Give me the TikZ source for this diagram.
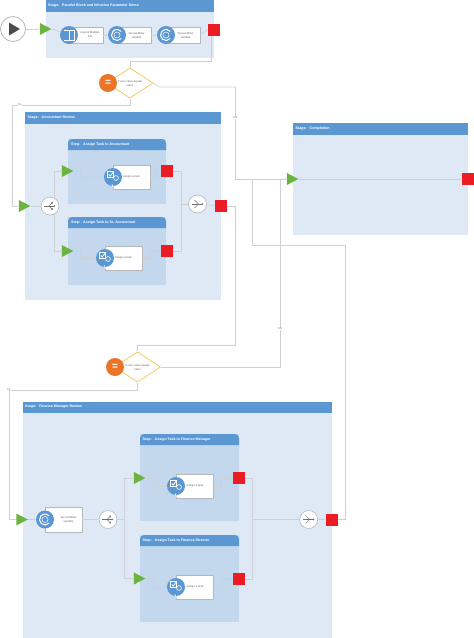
\documentclass[tikz,border=0pt]{standalone}
\usepackage{fontspec}
\setmainfont{Liberation Sans}
\usetikzlibrary{arrows.meta,shapes.geometric}
\definecolor{headblue}{HTML}{5B98D3}
\definecolor{stageblue}{HTML}{DEE9F5}
\definecolor{stepblue}{HTML}{C3D8ED}
\definecolor{flowgrey}{HTML}{CDD1D5}
\definecolor{boxgrey}{HTML}{B4B8BC}
\definecolor{endred}{HTML}{EC1C24}
\definecolor{startgreen}{HTML}{6CB33F}
\definecolor{eqorange}{HTML}{EC7427}
\definecolor{ruleyellow}{HTML}{F3C557}
\tikzset{
  stagebody/.style={fill=stageblue,inner sep=0pt},
  stepbody/.style={fill=stepblue,inner sep=0pt},
  headtext/.style={text=white,inner sep=0pt,anchor=west,font=\fontsize{3.6}{4.4}\selectfont\bfseries},
  flow/.style={draw=flowgrey,line width=0.7pt,-{Latex[length=1.6pt,width=1.6pt]}},
  greenev/.style={shape=isosceles triangle,isosceles triangle stretches,fill=startgreen,minimum width=12pt,minimum height=11.5pt,inner sep=0pt,xshift=-2pt},
  redend/.style={fill=endred,minimum size=12pt,inner sep=0pt},
  taskbox/.style={draw=boxgrey,fill=white,line width=0.6pt,minimum width=37pt,minimum height=24pt,inner sep=0pt,align=center,text=black!60,font=\fontsize{2.8}{4}\selectfont},
  taskicon/.style={circle,fill=headblue,minimum size=18pt,inner sep=0pt},
  gateway/.style={circle,draw=boxgrey,fill=white,line width=0.6pt,minimum size=18pt,inner sep=0pt},
  rulebox/.style={diamond,draw=ruleyellow,fill=white,line width=0.7pt,minimum width=46pt,minimum height=30pt,inner sep=0pt,align=center,text=black!60,font=\fontsize{2.8}{4}\selectfont},
  ruleicon/.style={circle,fill=eqorange,minimum size=18pt,inner sep=0pt,text=white,font=\fontsize{10}{10}\selectfont\bfseries},
  branchtext/.style={fill=white,inner sep=0.5pt,text=black!50,font=\fontsize{2.8}{3}\selectfont},
}
% white and grey signs inside the round nodes
\newcommand{\loopsign}[1]{
\draw[white,line width=1pt] ([shift={(40:5.5)}]#1.center) arc (40:320:5.5);
\draw[white,line width=0.5pt] (#1.center) circle (3);
}
\newcommand{\notesign}[1]{
\draw[white,line width=0.9pt] ([shift={(-5.5,-4.5)}]#1.center) -- ++(11,0) -- ++(0,10) -- ++(-11,0) ([shift={(0.5,-4.5)}]#1.center) -- ++(0,10);
}
\newcommand{\tasksign}[1]{
\draw[white,line width=0.5pt] ([shift={(-5.5,-5.5)}]#1.center) rectangle ++(6,6);
\draw[white,line width=0.8pt] ([shift={(-4.2,-2.5)}]#1.center) -- ++(1.5,1.5) -- ++(3,-4);
\draw[white,line width=0.6pt] ([shift={(3,1)}]#1.center) circle (2.4);
\draw[white,line width=0.6pt] ([shift={(-0.8,7.5)}]#1.center) arc (180:0:3.8 and 3.8);
}
\newcommand{\splitsign}[1]{
\draw[black!55,line width=0.4pt,-{Latex[length=1.6pt,width=2pt]}] ([shift={(-6,0)}]#1.center) -- ++(11.5,0);
\draw[black!55,line width=0.4pt,-{Latex[length=1.6pt,width=2pt]}] ([shift={(-1,0)}]#1.center) -- ++(4,-4);
\draw[black!55,line width=0.4pt,-{Latex[length=1.6pt,width=2pt]}] ([shift={(-1,0)}]#1.center) -- ++(4,4);
}
\newcommand{\joinsign}[1]{
\draw[black!55,line width=0.4pt,-{Latex[length=1.6pt,width=2pt]}] ([shift={(-5.5,0)}]#1.center) -- ++(11.5,0);
\draw[black!55,line width=0.4pt] ([shift={(-3,-4)}]#1.center) -- ++(4,4) -- ++(-4,4);
}
\begin{document}
\begin{tikzpicture}[x=1pt,y=-1pt]
\useasboundingbox (0,0) rectangle (474,638);
% stages
\node[stagebody,minimum width=168.5pt,minimum height=58pt] (parallel) at (129.75,29) {};
\node[stagebody,minimum width=195.5pt,minimum height=188pt] (accountant) at (122.75,206) {};
\node[stagebody,minimum width=175pt,minimum height=112pt] (completion) at (380.5,179) {};
\node[stagebody,minimum width=309.5pt,minimum height=236pt] (finance) at (177.25,520) {};
\fill[headblue] (45.5,0) rectangle (214,12);
\fill[headblue] (25,112) rectangle (220.5,123.5);
\fill[headblue] (293,123) rectangle (468,134.5);
\fill[headblue] (22.5,401.5) rectangle (332,413);
\node[headtext] (parallelhead) at (48,6) {Stage:\ \ \ Parallel Block and Initiation Parameter Demo};
\node[headtext] (accountanthead) at (27.5,117.7) {Stage:\ \ \ Accountant Review};
\node[headtext] (completionhead) at (295.5,128.5) {Stage:\ \ \ Completion};
\node[headtext] (financehead) at (25,407) {Stage:\ \ \ Finance Manager Review};
% steps
\node[stepbody,minimum width=98pt,minimum height=65pt] (stepA) at (117,171.5) {};
\node[stepbody,minimum width=98pt,minimum height=68pt] (stepB) at (117,251) {};
\node[stepbody,minimum width=99pt,minimum height=87pt] (stepC) at (189.5,477.5) {};
\node[stepbody,minimum width=99pt,minimum height=87pt] (stepD) at (189.5,578.5) {};
\fill[headblue,rounded corners=4pt] (68,150) |- (166,139) [sharp corners] -- (166,150) -- cycle;
\fill[headblue,rounded corners=4pt] (68,228) |- (166,217) [sharp corners] -- (166,228) -- cycle;
\fill[headblue,rounded corners=4pt] (140,445) |- (239,434) [sharp corners] -- (239,445) -- cycle;
\fill[headblue,rounded corners=4pt] (140,546) |- (239,535) [sharp corners] -- (239,546) -- cycle;
\node[headtext] (stepAhead) at (71,144.3) {Step:\ \ \ Assign Task to Accountant};
\node[headtext] (stepBhead) at (71,222.5) {Step:\ \ \ Assign Task to Sr. Accountant};
\node[headtext] (stepChead) at (142.5,439.8) {Step:\ \ \ Assign Task to Finance Manager};
\node[headtext] (stepDhead) at (142.5,540.3) {Step:\ \ \ Assign Task to Finance Director};
% start and first stage
\node[circle,draw=boxgrey,fill=white,line width=0.8pt,minimum size=25pt,inner sep=0pt] (start) at (13,29) {};
\fill[black!70] (9,22.5) -- (20,29) -- (9,35.5) -- cycle;
\node[greenev] (inA) at (45.5,29) {};
\node[taskbox,minimum width=34pt,minimum height=16pt] (sqlbox) at (86,35) {\hspace*{8pt}Logical Multiple\\\hspace*{8pt}Sql};
\node[taskicon] (sqlicon) at (69,35) {};
\node[taskbox,minimum width=34pt,minimum height=16pt] (varboxA) at (134,35) {\hspace*{5pt}Set workflow\\\hspace*{5pt}variable};
\node[taskicon] (variconA) at (117,35) {};
\node[taskbox,minimum width=34pt,minimum height=16pt] (varboxB) at (183,35) {\hspace*{5pt}Set workflow\\\hspace*{5pt}variable};
\node[taskicon] (variconB) at (166,35) {};
\node[redend] (outA) at (214,29.5) {};
\notesign{sqlicon}
\loopsign{variconA}
\loopsign{variconB}
\draw[flow] (start) -- (inA);
\draw[flow] (inA.east) -- (sqlicon);
\draw[flow] (sqlbox) -- (variconA);
\draw[flow] (varboxA) -- (variconB);
\draw[flow] (varboxB.east) -- (outA.west);
% first rule
\node[rulebox] (ruleA) at (130,83) {If zero value equals\\value};
\node[ruleicon] (eqA) at (108,83) {=};
\coordinate (bendA) at (211.5,61);
\coordinate (bendH) at (159,87);
\coordinate (bendB) at (235,87);
\coordinate (bendC) at (130,105);
\coordinate (inD) at (12,105);
\draw[flow] (outA.south -| bendA) -- (bendA) -| (ruleA.north);
\draw[flow,-] (ruleA.east) -- (bendH) -- (bendB);
\draw[flow,-] (ruleA.south) -- (bendC) -- (inD);
% accountant stage
\node[greenev] (inB) at (24.5,206) {};
\node[gateway] (splitA) at (50,206) {};
\node[greenev] (inC) at (67.5,171) {};
\node[greenev] (inE) at (67.5,251) {};
\node[taskbox] (taskboxA) at (131.5,177) {Assign a task};
\node[taskicon] (taskiconA) at (113,177) {};
\node[taskbox] (taskboxB) at (123.5,258) {Assign a task};
\node[taskicon] (taskiconB) at (105,258) {};
\node[redend] (outB) at (167,171) {};
\node[redend] (outC) at (167,251) {};
\node[gateway] (joinA) at (197.5,204) {};
\node[redend] (outD) at (221,206) {};
\tasksign{taskiconA}
\tasksign{taskiconB}
\splitsign{splitA}
\joinsign{joinA}
\coordinate (colAtop) at (54,197.9);
\coordinate (colAbot) at (54,214.1);
\coordinate (colB) at (80,177);
\coordinate (colC) at (80,258);
\coordinate (colD) at (155,171);
\coordinate (colE) at (150,251);
\coordinate (colF) at (181,204);
\draw[flow] (inD) |- (inB.west);
\draw[flow] (inB.east) -- (splitA);
\draw[flow] (colAtop) |- (inC.west);
\draw[flow] (colAbot) |- (inE.west);
\draw[flow] (inC.east) -| (colB) -- (taskiconA);
\draw[flow] (inE.east) -| (colC) -- (taskiconB);
\draw[flow] (taskboxA) -| (colD) -- (outB);
\draw[flow] (taskboxB) -| (colE) -- (outC);
\draw[flow,-] (outB) -| (colF);
\draw[flow,-] (outC) -| (colF);
\draw[flow] (colF) -- (joinA);
\draw[flow] (joinA) -- (outD);
% completion stage
\node[greenev] (inF) at (292.5,179) {};
\node[redend] (outF) at (468,179) {};
\coordinate (colG) at (235,179);
\coordinate (colH) at (252,179);
\coordinate (colI) at (280,179);
\draw[flow,-] (bendB) -- (colG);
\draw[flow] (colG) -- (inF.west);
\draw[flow] (inF.east) -- (outF);
\node[branchtext] (yesA) at (235,118) {Yes};
\node[branchtext] (noA) at (20,105) {No};
% second rule
\node[rulebox] (ruleB) at (137.5,367) {If zero value equals\\value};
\node[ruleicon] (eqB) at (115,367) {=};
\coordinate (bendD) at (235,345);
\coordinate (bendE) at (137.5,345);
\coordinate (bendF) at (280,367);
\coordinate (bendG) at (137.5,390);
\coordinate (inG) at (9,390);
\draw[flow] (outD) -| (bendD) -- (bendE) -- (ruleB.north);
\draw[flow,-] (ruleB.east) -- (bendF) -- (colI);
\draw[flow,-] (ruleB.south) -- (bendG) -- (inG);
\node[branchtext] (yesB) at (280,329) {Yes};
\node[branchtext] (noB) at (9,390) {No};
% finance stage
\node[greenev] (inH) at (22,519.5) {};
\node[taskbox,minimum height=25pt] (varboxC) at (63.5,519.5) {\hspace*{10pt}Set workflow\\\hspace*{10pt}variable};
\node[taskicon] (variconC) at (45,519.5) {};
\node[gateway] (splitB) at (108,519.5) {};
\node[greenev] (inI) at (139.5,478) {};
\node[greenev] (inJ) at (139.5,578.5) {};
\node[taskbox] (taskboxC) at (195,486) {Assign a task};
\node[taskicon] (taskiconC) at (176,486) {};
\node[taskbox] (taskboxD) at (195,587) {Assign a task};
\node[taskicon] (taskiconD) at (176,587) {};
\node[redend] (outI) at (239,478) {};
\node[redend] (outJ) at (239,579) {};
\node[gateway] (joinB) at (308.7,519.5) {};
\node[redend] (outK) at (332,519.5) {};
\loopsign{variconC}
\tasksign{taskiconC}
\tasksign{taskiconD}
\splitsign{splitB}
\joinsign{joinB}
\coordinate (colJ) at (124,519.5);
\coordinate (colK) at (153,486);
\coordinate (colL) at (153,587);
\coordinate (colM) at (221,478);
\coordinate (colN) at (221,579);
\coordinate (colO) at (252,519.5);
\coordinate (colP) at (345,245);
\coordinate (colQ) at (252,245);
\draw[flow] (inG) |- (inH.west);
\draw[flow] (inH.east) -- (variconC);
\draw[flow] (varboxC) -- (splitB);
\draw[flow] (splitB) -| (colJ) |- (inI.west);
\draw[flow] (colJ) |- (inJ.west);
\draw[flow] (inI.east) -| (colK) -- (taskiconC);
\draw[flow] (inJ.east) -| (colL) -- (taskiconD);
\draw[flow] (taskboxC) -| (colM) -- (outI);
\draw[flow] (taskboxD) -| (colN) -- (outJ);
\draw[flow,-] (outI) -| (colO);
\draw[flow,-] (outJ) -| (colO);
\draw[flow] (colO) -- (joinB);
\draw[flow] (joinB) -- (outK);
\draw[flow,-] (outK) -| (colP) -- (colQ) -- (colH);
\end{tikzpicture}
\end{document}
